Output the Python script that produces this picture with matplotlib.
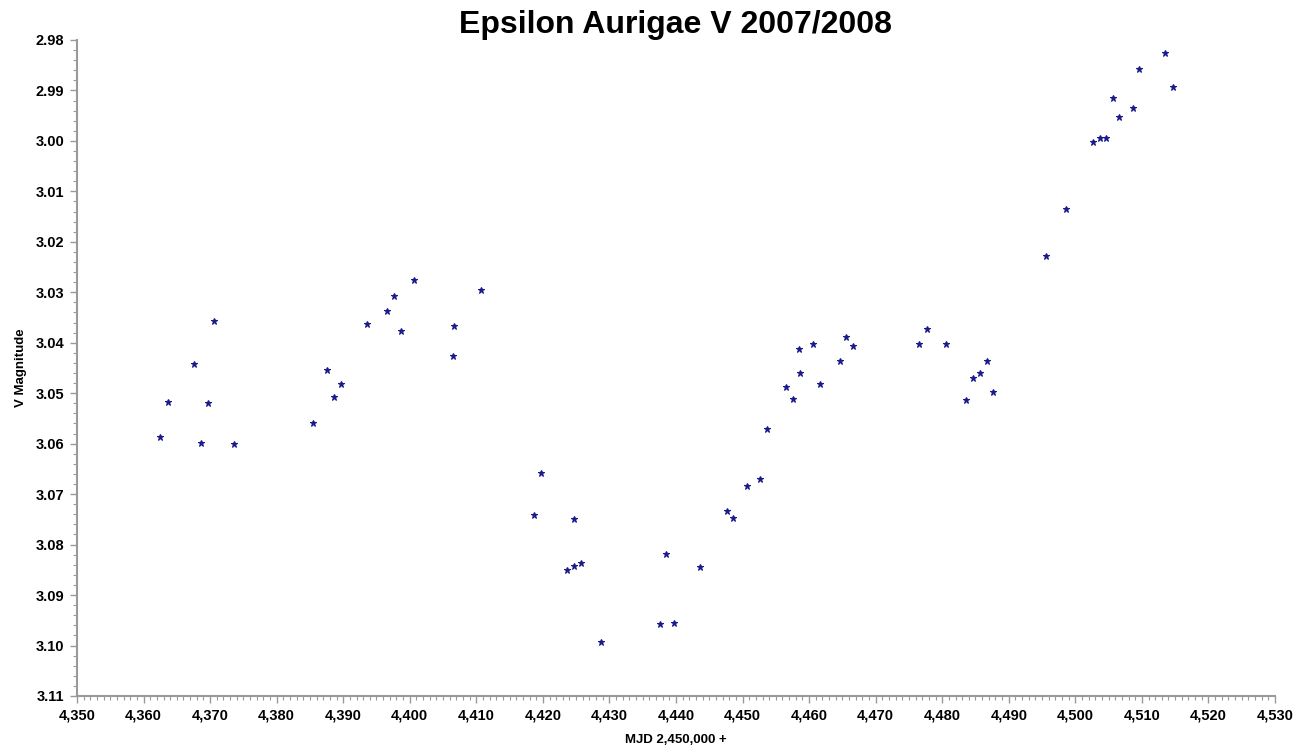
import matplotlib
matplotlib.use("Agg")
import matplotlib.pyplot as plt
from matplotlib.ticker import MultipleLocator, FuncFormatter

plt.rcParams['font.family'] = ['Liberation Sans', 'DejaVu Sans']

# MJD - 2,450,000
mjd = [4362.5, 4363.7, 4367.6, 4368.6, 4369.7, 4370.6, 4373.6,
       4385.5, 4387.6, 4388.6, 4389.7, 4393.6, 4396.6, 4397.6, 4398.7,
       4400.6, 4406.6, 4406.5, 4410.7,
       4418.7, 4419.7, 4423.6, 4424.7, 4424.7, 4425.7, 4428.7,
       4437.6, 4438.5, 4439.7, 4443.6, 4447.7, 4448.6, 4450.7, 4452.6,
       4453.7, 4456.5, 4457.6, 4458.5, 4458.6, 4460.6, 4461.6, 4464.6,
       4465.5, 4466.6,
       4476.5, 4477.7, 4480.6, 4483.6, 4484.6, 4485.7, 4486.7, 4487.6,
       4495.6, 4498.6, 4502.6, 4503.7, 4504.6, 4505.6, 4506.5, 4508.7,
       4509.6, 4513.5, 4514.7]

# V magnitude
vmag = [3.0587, 3.0517, 3.0442, 3.0599, 3.0519, 3.0357, 3.0601,
        3.0559, 3.0454, 3.0508, 3.0482, 3.0363, 3.0337, 3.0307, 3.0377,
        3.0276, 3.0367, 3.0426, 3.0295,
        3.0741, 3.0658, 3.0850, 3.0749, 3.0842, 3.0836, 3.0993,
        3.0957, 3.0819, 3.0955, 3.0844, 3.0733, 3.0747, 3.0684, 3.0670,
        3.0571, 3.0488, 3.0511, 3.0412, 3.0460, 3.0402, 3.0482, 3.0436,
        3.0389, 3.0406,
        3.0402, 3.0373, 3.0402, 3.0513, 3.0470, 3.0460, 3.0436, 3.0498,
        3.0228, 3.0135, 3.0002, 2.9994, 2.9994, 2.9915, 2.9953, 2.9935,
        2.9857, 2.9826, 2.9893]

fig = plt.figure(figsize=(13.07, 7.47), dpi=100)
ax = fig.add_axes([0.0589, 0.0683, 0.9166, 0.8782])

ax.plot(mjd, vmag, linestyle="none", marker="*", markersize=5,
        color="#1a1a8a", markeredgewidth=0.8)

ax.set_xlim(4350, 4530)
ax.set_ylim(3.11, 2.98)

ax.xaxis.set_major_locator(MultipleLocator(10))
ax.xaxis.set_minor_locator(MultipleLocator(1))
ax.yaxis.set_major_locator(MultipleLocator(0.01))
ax.yaxis.set_minor_locator(MultipleLocator(0.002))
ax.xaxis.set_major_formatter(FuncFormatter(lambda v, p: f"{v:,.0f}"))
ax.yaxis.set_major_formatter(FuncFormatter(lambda v, p: f"{v:.2f}"))

for s in ["top", "right"]:
    ax.spines[s].set_visible(False)
for s in ["left", "bottom"]:
    ax.spines[s].set_color("#999999")
    ax.spines[s].set_linewidth(1.5)

ax.tick_params(which="major", direction="out", length=5, width=1, color="#999999",
               labelsize=10.5, pad=4)
ax.tick_params(which="minor", direction="out", length=3, width=0.8, color="#999999")
for lbl in ax.get_xticklabels() + ax.get_yticklabels():
    lbl.set_fontweight("bold")

ax.set_title("Epsilon Aurigae V 2007/2008", fontsize=23, fontweight="bold", pad=2)
ax.set_xlabel("MJD 2,450,000 +", fontsize=9.5, fontweight="bold", labelpad=8)
ax.set_ylabel("V Magnitude", fontsize=9.5, fontweight="bold", labelpad=6)

fig.savefig("out.png", dpi=100)
